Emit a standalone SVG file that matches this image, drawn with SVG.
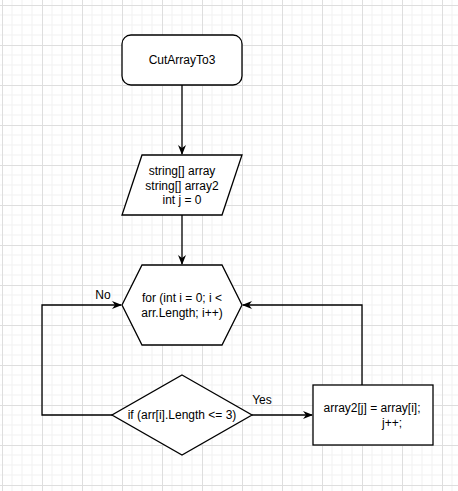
<svg xmlns="http://www.w3.org/2000/svg" width="458" height="491" viewBox="0 0 458 491">
  <defs>
    <pattern id="grid" x="2" y="5" width="40" height="40" patternUnits="userSpaceOnUse">
      <path d="M10 0V40M20 0V40M30 0V40M0 10H40M0 20H40M0 30H40" stroke="#f1f1f1" stroke-width="1" fill="none"/>
      <path d="M0.5 0V40M0 0.5H40" stroke="#dedede" stroke-width="1" fill="none"/>
    </pattern>
    <marker id="arrow" viewBox="0 0 10 10" refX="9" refY="5" markerWidth="10" markerHeight="10" markerUnits="userSpaceOnUse" orient="auto">
      <path d="M0 1 L10 5 L0 9 L3 5 Z" fill="#000"/>
    </marker>
  </defs>
  <style>
    .shape { fill: #fff; stroke: #000; stroke-width: 1.3; }
    .edge { fill: none; stroke: #000; stroke-width: 1.3; marker-end: url(#arrow); }
    .edge-plain { fill: none; stroke: #000; stroke-width: 1.3; }
    text { font-family: "Liberation Sans", Arial, sans-serif; font-size: 12px; fill: #000; }
    .c { text-anchor: middle; dominant-baseline: central; }
  </style>

  <rect width="458" height="491" fill="#fff"/>
  <rect width="458" height="491" fill="url(#grid)"/>

  <!-- connectors -->
  <g id="connectors">
    <path class="edge" d="M182 85 V154"/>
    <path class="edge" d="M182 215 V264"/>
    <path class="edge" d="M113 415 H42 V305 H121"/>
    <path class="edge" d="M252 415 H312"/>
    <path class="edge" d="M362 385 V305 H243"/>
    <text x="103" y="295" class="c">No</text>
    <text x="262" y="400" class="c">Yes</text>
  </g>

  <g id="start">
    <rect class="shape" x="122" y="35" width="120" height="50" rx="9" ry="9"/>
    <text x="182" y="60" class="c">CutArrayTo3</text>
  </g>

  <g id="declarations">
    <polygon class="shape" points="142,155 242,155 222,215 122,215"/>
    <text x="182" y="171" class="c">string[] array</text>
    <text x="182" y="185.5" class="c">string[] array2</text>
    <text x="182" y="200" class="c">int j = 0</text>
  </g>

  <g id="loop">
    <polygon class="shape" points="142,265 222,265 242,305 222,345 142,345 122,305"/>
    <text x="182" y="298" class="c">for (int i = 0; i &lt;</text>
    <text x="182" y="313" class="c">arr.Length; i++)</text>
  </g>

  <g id="condition">
    <polygon class="shape" points="182,375 252,415 182,455 112,415"/>
    <text x="182" y="415" class="c">if (arr[i].Length &lt;= 3)</text>
  </g>

  <g id="assign">
    <rect class="shape" x="313" y="385" width="120" height="60"/>
    <text x="372" y="408" class="c">array2[j] = array[i];</text>
    <text x="392" y="423" class="c">j++;</text>
  </g>
</svg>
